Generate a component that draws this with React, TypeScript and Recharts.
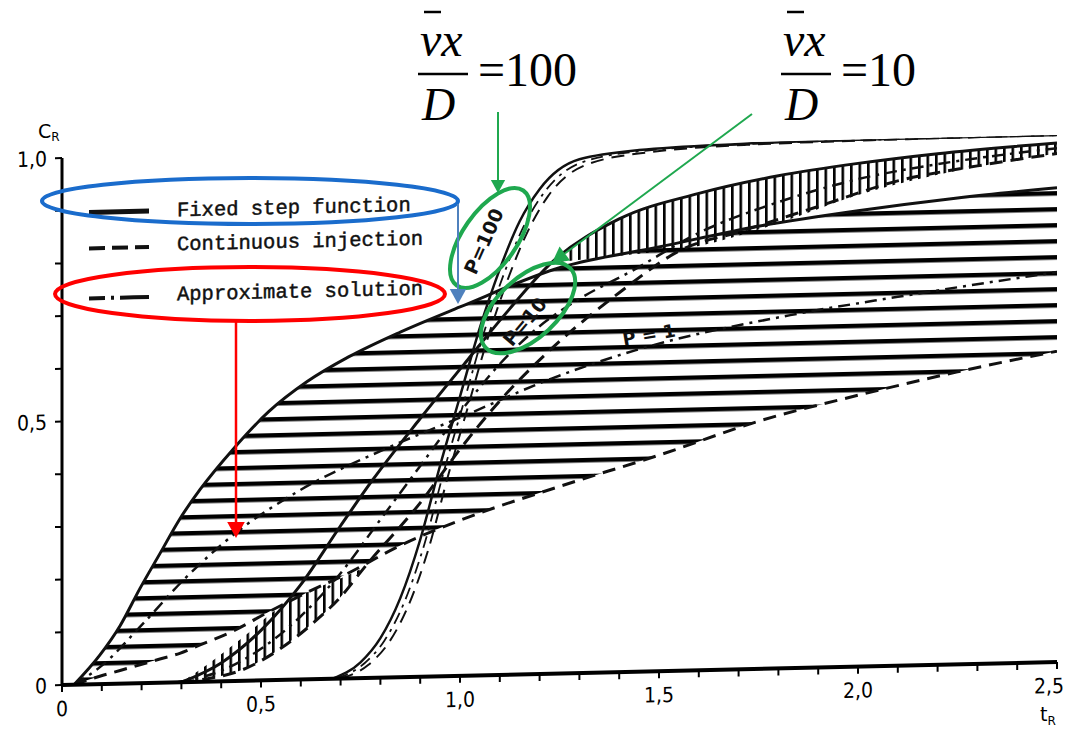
import React from 'react';
import { ComposedChart, Line, Area, XAxis, YAxis, Legend } from 'recharts';

// ---------- tick values / labels ----------
const xTicks = [0, 0.1, 0.2, 0.3, 0.4, 0.5, 0.6, 0.7, 0.8, 0.9, 1.0, 1.1, 1.2, 1.3, 1.4, 1.5, 1.6, 1.7, 1.8, 1.9, 2.0, 2.1, 2.2, 2.3, 2.4, 2.5];
const xLabelValues = [0, 0.5, 1.0, 1.5, 2.0, 2.5];
const xLabelTexts = ['0', '0,5', '1,0', '1,5', '2,0', '2,5'];
const yTicks = [0, 0.1, 0.2, 0.3, 0.4, 0.5, 0.6, 0.7, 0.8, 0.9, 1.0];
const yLabelValues = [0, 0.5, 1.0];
const yLabelTexts = ['0', '0,5', '1,0'];
const legendItems = ['Fixed step function', 'Continuous injection', 'Approximate solution'];

// ---------- P = 1 ----------
const p1T = [0.03, 0.095, 0.146, 0.196, 0.246, 0.296, 0.347, 0.43, 0.52, 0.616, 0.72, 0.85, 1.0, 1.25, 1.5, 1.75, 2.0, 2.25, 2.5];
const p1Solid = [0, 0.055, 0.11, 0.18, 0.245, 0.31, 0.365, 0.44, 0.51, 0.565, 0.61, 0.655, 0.7, 0.77, 0.805, 0.84, 0.865, 0.885, 0.9];
const p1Dashed = [0, 0.015, 0.025, 0.035, 0.045, 0.055, 0.07, 0.095, 0.13, 0.165, 0.2, 0.25, 0.295, 0.355, 0.41, 0.47, 0.515, 0.555, 0.59];
const p1ApproxT = [0.03, 0.1, 0.2, 0.3, 0.435, 0.6, 0.8, 1.0, 1.23, 1.44, 1.83, 2.1, 2.5];
const p1Approx = [0, 0.035, 0.11, 0.19, 0.28, 0.36, 0.43, 0.49, 0.56, 0.61, 0.67, 0.7, 0.74];

// ---------- P = 10 ----------
const p10SolidT = [0.3, 0.4, 0.5, 0.6, 0.7, 0.78, 0.9, 1.02, 1.12, 1.23, 1.4, 1.6, 1.8, 2.0, 2.2, 2.5];
const p10Solid = [0, 0.035, 0.095, 0.18, 0.29, 0.375, 0.49, 0.6, 0.69, 0.78, 0.86, 0.905, 0.935, 0.955, 0.97, 0.985];
const p10DashedT = [0.3, 0.36, 0.45, 0.55, 0.63, 0.7, 0.76, 0.9, 1.0, 1.1, 1.22, 1.4, 1.56, 1.7, 1.9, 2.1, 2.3, 2.5];
const p10Dashed = [0, 0.005, 0.02, 0.06, 0.106, 0.155, 0.21, 0.33, 0.43, 0.52, 0.61, 0.72, 0.8, 0.83, 0.875, 0.92, 0.945, 0.965];
const p10ApproxT = [0.29, 0.4, 0.5, 0.6, 0.7, 0.8, 0.9, 1.0, 1.1, 1.2, 1.3, 1.43, 1.6, 1.8, 2.0, 2.2, 2.5];
const p10Approx = [0, 0.02, 0.06, 0.12, 0.2, 0.3, 0.4, 0.5, 0.59, 0.66, 0.71, 0.76, 0.83, 0.885, 0.925, 0.95, 0.975];

// ---------- P = 100 ----------
const p100SolidT = [0.68, 0.75, 0.8, 0.85, 0.9, 0.95, 1.0, 1.05, 1.1, 1.15, 1.2, 1.3, 1.45, 1.7, 2.0, 2.5];
const p100Solid = [0, 0.03, 0.075, 0.15, 0.26, 0.4, 0.53, 0.66, 0.77, 0.86, 0.92, 0.975, 0.99, 0.997, 1.0, 1.0];
const p100DashedT = [0.7, 0.77, 0.82, 0.87, 0.92, 0.97, 1.02, 1.07, 1.12, 1.17, 1.22, 1.32, 1.47, 1.72, 2.0, 2.5];
const p100Dashed = [0, 0.025, 0.065, 0.135, 0.24, 0.38, 0.51, 0.64, 0.75, 0.84, 0.905, 0.965, 0.985, 0.995, 0.998, 1.0];
const p100ApproxT = [0.69, 0.76, 0.81, 0.86, 0.91, 0.96, 1.01, 1.06, 1.11, 1.16, 1.21, 1.31, 1.46, 1.71, 2.0, 2.5];
const p100Approx = [0, 0.028, 0.07, 0.142, 0.25, 0.39, 0.52, 0.65, 0.76, 0.85, 0.912, 0.97, 0.988, 0.996, 0.999, 1.0];

// ---------- vertically hatched bands ----------
const leftBandT = [0.3, 0.36, 0.45, 0.55, 0.63, 0.7, 0.76];
const leftBandLow = [0, 0.005, 0.02, 0.06, 0.106, 0.155, 0.21];
const leftBandHigh = [0, 0.03, 0.08, 0.14, 0.17, 0.19, 0.21];
const rightBandT = [1.23, 1.4, 1.6, 1.8, 2.0, 2.2, 2.5];
const rightBandLow = [0.78, 0.79, 0.805, 0.845, 0.895, 0.93, 0.965];
const rightBandHigh = [0.78, 0.86, 0.905, 0.935, 0.955, 0.97, 0.985];

// ---------- tables built for the library ----------
const toRows = (ts: number[], vs: number[]) => ts.map((t, i) => ({ t, v: vs[i] }));
const toBand = (ts: number[], lo: number[], hi: number[]) => ts.map((t, i) => ({ t, band: [lo[i], hi[i]] }));

const p1Band = toBand(p1T, p1Dashed, p1Solid);
const leftBand = toBand(leftBandT, leftBandLow, leftBandHigh);
const rightBand = toBand(rightBandT, rightBandLow, rightBandHigh);

const INK = '#111';
const SOLID = { stroke: INK, strokeWidth: 3 };
const DASHED = { stroke: INK, strokeWidth: 3, strokeDasharray: '13 8' };
const DASHDOT = { stroke: INK, strokeWidth: 2.5, strokeDasharray: '12 6 3 6' };

const AXIS_FONT = "'Liberation Sans Narrow','DejaVu Sans Condensed','Liberation Sans',sans-serif";
const MONO = "'Liberation Mono','DejaVu Sans Mono',monospace";
const SERIF = "'Liberation Serif','DejaVu Serif',serif";
const SANS = "'DejaVu Sans','Liberation Sans',sans-serif";

const near = (a: number, b: number) => Math.abs(a - b) < 1e-6;

const XTick = (props: any) => {
  const { x, y, payload } = props;
  const i = xLabelValues.findIndex((v) => near(v, payload.value));
  if (i < 0) return <g />;
  const last = i === xLabelValues.length - 1;
  return (
    <text x={last ? x + 7 : x} y={y} dy={22} textAnchor={last ? 'end' : 'middle'} fontSize={21} fontFamily={AXIS_FONT} fill="#000">
      {xLabelTexts[i]}
    </text>
  );
};

const YTick = (props: any) => {
  const { x, y, payload } = props;
  const i = yLabelValues.findIndex((v) => near(v, payload.value));
  if (i < 0) return <g />;
  return (
    <text x={x - 6} y={y} dy={8} textAnchor="end" fontSize={21} fontFamily={AXIS_FONT} fill="#000">
      {yLabelTexts[i]}
    </text>
  );
};

const legendStyles = [SOLID, DASHED, DASHDOT];
const legendRowsY = [20, 54, 104];

const LegendContent = () => (
  <svg width={380} height={120} style={{ overflow: 'visible' }}>
    {legendItems.map((name, i) => (
      <g key={name}>
        <line x1={0} x2={60} y1={legendRowsY[i] + (i === 0 ? 1 : 3)} y2={legendRowsY[i] + (i === 0 ? 1 : 3)}
          {...legendStyles[i]} strokeWidth={i === 0 ? 5 : 4} strokeDasharray={i === 1 ? '16 7' : i === 2 ? '16 6 3 6 14 0' : undefined} />
        <text x={88} y={legendRowsY[i]} dy={7} fontSize={20.5} fontFamily={MONO} fill="#111" stroke="#111" strokeWidth={0.45}>{name}</text>
      </g>
    ))}
  </svg>
);

const Arrow = ({ x1, y1, x2, y2, color, w, head }: any) => {
  const a = Math.atan2(y2 - y1, x2 - x1);
  const bx = x2 - head * Math.cos(a);
  const by = y2 - head * Math.sin(a);
  const hw = head * 0.55;
  const px = -Math.sin(a) * hw;
  const py = Math.cos(a) * hw;
  return (
    <g>
      <line x1={x1} y1={y1} x2={bx} y2={by} stroke={color} strokeWidth={w} />
      <polygon points={`${x2},${y2} ${bx + px},${by + py} ${bx - px},${by - py}`} fill={color} />
    </g>
  );
};

const Fraction = ({ x, eq }: { x: number; eq: string }) => (
  <g fontFamily={SERIF} fill="#000">
    <text x={x} y={56} fontSize={48} fontStyle="italic">vx</text>
    <line x1={x + 4} x2={x + 21} y1={12} y2={12} stroke="#000" strokeWidth={2.5} />
    <line x1={x - 2} x2={x + 48} y1={74} y2={74} stroke="#000" strokeWidth={2.5} />
    <text x={x + 2} y={120} fontSize={46} fontStyle="italic">D</text>
    <text x={x + 58} y={86} fontSize={48}>{eq}</text>
  </g>
);

export default function App() {
  return (
    <div style={{ position: 'absolute', left: 0, top: 0, width: 1067, height: 738, background: '#fff', overflow: 'hidden' }}>
      <div style={{ position: 'absolute', left: 0, top: 0, transform: 'skewY(-1.32deg)', transformOrigin: '62px 685px' }}>
        <ComposedChart width={1067} height={738} margin={{ top: 158, right: 10, bottom: 23, left: 22 }}>
          <defs>
            <pattern id="hHatch" patternUnits="userSpaceOnUse" width="40" height="16">
              <rect x="0" y="6" width="40" height="4.5" fill="#000" />
            </pattern>
            <pattern id="vHatch" patternUnits="userSpaceOnUse" width="8.5" height="40">
              <rect x="0" y="0" width="2.6" height="40" fill="#000" />
            </pattern>
          </defs>
          <XAxis xAxisId="b" dataKey="t" type="number" domain={[0, 2.5]} ticks={xTicks} interval={0}
            allowDataOverflow height={30} tick={<XTick />} tickSize={7}
            axisLine={{ stroke: '#000', strokeWidth: 4 }} tickLine={{ stroke: '#000', strokeWidth: 2 }} />
          <XAxis xAxisId="top" orientation="top" dataKey="t" type="number" domain={[0, 2.5]} ticks={xTicks}
            interval={0} height={0} mirror tick={false} tickSize={7}
            axisLine={{ stroke: '#000', strokeWidth: 4 }} tickLine={{ stroke: '#000', strokeWidth: 2 }} />
          <YAxis yAxisId="l" type="number" domain={[0, 1]} ticks={yTicks} interval={0} width={40}
            allowDataOverflow tick={<YTick />} tickSize={7}
            axisLine={{ stroke: '#000', strokeWidth: 3 }} tickLine={{ stroke: '#000', strokeWidth: 2 }} />
          <YAxis yAxisId="r" orientation="right" type="number" domain={[0, 1]} ticks={yTicks} interval={0}
            width={0} mirror tick={false} tickSize={7}
            axisLine={{ stroke: '#000', strokeWidth: 3.5 }} tickLine={{ stroke: '#000', strokeWidth: 2 }} />

          <Legend layout="horizontal" verticalAlign="middle" align="center" content={<LegendContent />}
            wrapperStyle={{ position: 'absolute', left: 89, top: 192, width: 380, height: 120 }} />

          {/* hatched regions */}
          <Area xAxisId="b" yAxisId="l" data={p1Band} dataKey="band" type="monotone" fill="url(#hHatch)" fillOpacity={1}
            stroke="none" isAnimationActive={false} legendType="none" />
          <Area xAxisId="b" yAxisId="l" data={leftBand} dataKey="band" type="monotone" fill="url(#vHatch)" fillOpacity={1}
            stroke="none" isAnimationActive={false} legendType="none" />
          <Area xAxisId="b" yAxisId="l" data={rightBand} dataKey="band" type="monotone" fill="url(#vHatch)" fillOpacity={1}
            stroke="none" isAnimationActive={false} legendType="none" />

          {/* P = 1 */}
          <Line xAxisId="b" yAxisId="l" data={toRows(p1T, p1Solid)} dataKey="v" type="monotone" {...SOLID} dot={false} activeDot={false} isAnimationActive={false} />
          <Line xAxisId="b" yAxisId="l" data={toRows(p1T, p1Dashed)} dataKey="v" type="monotone" {...DASHED} dot={false} activeDot={false} isAnimationActive={false} />
          <Line xAxisId="b" yAxisId="l" data={toRows(p1ApproxT, p1Approx)} dataKey="v" type="monotone" {...DASHDOT} dot={false} activeDot={false} isAnimationActive={false} />
          {/* P = 10 */}
          <Line xAxisId="b" yAxisId="l" data={toRows(p10SolidT, p10Solid)} dataKey="v" type="monotone" {...SOLID} dot={false} activeDot={false} isAnimationActive={false} />
          <Line xAxisId="b" yAxisId="l" data={toRows(p10DashedT, p10Dashed)} dataKey="v" type="monotone" {...DASHED} dot={false} activeDot={false} isAnimationActive={false} />
          <Line xAxisId="b" yAxisId="l" data={toRows(p10ApproxT, p10Approx)} dataKey="v" type="monotone" {...DASHDOT} dot={false} activeDot={false} isAnimationActive={false} />
          {/* P = 100 */}
          <Line xAxisId="b" yAxisId="l" data={toRows(p100SolidT, p100Solid)} dataKey="v" type="monotone" {...SOLID} strokeWidth={2.5} dot={false} activeDot={false} isAnimationActive={false} />
          <Line xAxisId="b" yAxisId="l" data={toRows(p100DashedT, p100Dashed)} dataKey="v" type="monotone" {...DASHED} strokeWidth={2} dot={false} activeDot={false} isAnimationActive={false} />
          <Line xAxisId="b" yAxisId="l" data={toRows(p100ApproxT, p100Approx)} dataKey="v" type="monotone" {...DASHDOT} strokeWidth={1.8} dot={false} activeDot={false} isAnimationActive={false} />
        </ComposedChart>
      </div>

      {/* annotations */}
      <svg width={1067} height={738} style={{ position: 'absolute', left: 0, top: 0, pointerEvents: 'none' }}>
        {/* axis titles */}
        <text x={38} y={138} fontSize={19} fontFamily={SANS} fill="#000">C<tspan fontSize={12} dy={3}>R</tspan></text>
        <text x={1040} y={721} fontSize={19} fontFamily={SANS} fill="#000">t<tspan fontSize={12} dy={4}>R</tspan></text>

        {/* curve labels from the figure */}
        <text x={0} y={0} fontSize={19} fontWeight="bold" fontFamily={SANS} fill="#111" textAnchor="middle"
          transform="translate(490,244) rotate(-66)">P=100</text>
        <text x={0} y={0} fontSize={19} fontWeight="bold" fontFamily={SANS} fill="#111" textAnchor="middle"
          transform="translate(530,326) rotate(-50)">P=10</text>
        <text x={0} y={0} fontSize={18} fontWeight="bold" fontFamily={SANS} fill="#111" textAnchor="middle"
          transform="translate(650,341) rotate(-10)">P = 1</text>

        {/* ellipses */}
        <ellipse cx={250} cy={201} rx={208} ry={23} fill="none" stroke="#1a6ccc" strokeWidth={4} />
        <ellipse cx={250} cy={294} rx={195} ry={27} fill="none" stroke="#ff0000" strokeWidth={4} />
        <ellipse cx={490} cy={238} rx={27} ry={58} fill="none" stroke="#1fa84f" strokeWidth={4} transform="rotate(35 490 238)" />
        <ellipse cx={528} cy={308} rx={30} ry={58} fill="none" stroke="#1fa84f" strokeWidth={4} transform="rotate(47 528 308)" />

        {/* arrows */}
        <Arrow x1={458} y1={204} x2={458} y2={304} color="#4f81bd" w={2} head={15} />
        <Arrow x1={236} y1={322} x2={236} y2={538} color="#ff0000" w={2.5} head={16} />
        <Arrow x1={498} y1={112} x2={498} y2={193} color="#1fa84f" w={2} head={13} />
        <Arrow x1={752} y1={114} x2={552} y2={263} color="#1fa84f" w={2} head={16} />

        {/* formulas */}
        <Fraction x={420} eq="=100" />
        <Fraction x={783} eq="=10" />
      </svg>
    </div>
  );
}
